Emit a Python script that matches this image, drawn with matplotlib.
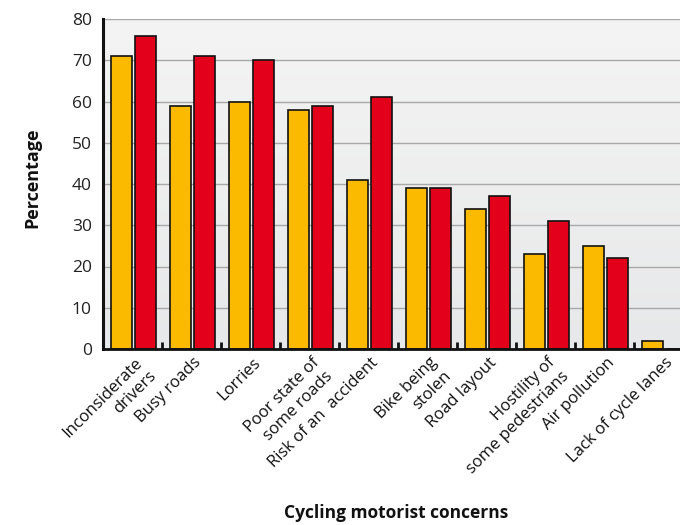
import matplotlib
matplotlib.use("Agg")
import matplotlib.pyplot as plt
import numpy as np
from matplotlib.colors import LinearSegmentedColormap

categories = ["Inconsiderate\ndrivers", "Busy roads", "Lorries", "Poor state of\nsome roads",
              "Risk of an  accident", "Bike being\nstolen", "Road layout",
              "Hostility of\nsome pedestrians", "Air pollution", "Lack of cycle lanes"]
cyclists = [71, 59, 60, 58, 41, 39, 34, 23, 25, 2]
motorists = [76, 71, 70, 59, 61, 39, 37, 31, 22, 0]
yticks = [0, 10, 20, 30, 40, 50, 60, 70, 80]

plt.rcParams['font.family'] = ['Open Sans', 'DejaVu Sans']

fig = plt.figure(figsize=(6.8, 5.25), dpi=100)
ax = fig.add_axes([103/680, 1-349/525, 590/680, 330/525])

# background gradient (light at top, slightly darker at bottom)
grad = np.linspace(0, 1, 256).reshape(-1, 1)
cmap = LinearSegmentedColormap.from_list("bg", ["#f4f4f4", "#e7e8e9"])
ax.imshow(grad, cmap=cmap, aspect='auto', extent=[0, 1, 0, 1], origin='upper',
          transform=ax.transAxes, zorder=0)

x = np.arange(len(categories))
w = 0.36
ax.bar(x - 0.19, cyclists, width=w, color="#FBBA00", edgecolor="#111111",
       linewidth=1.2, zorder=3)
ax.bar(x + 0.22, motorists, width=w, color="#E2001A", edgecolor="#111111",
       linewidth=1.2, zorder=3)

ax.set_xlim(-0.5, 9.5)
ax.set_ylim(0, 80)
ax.set_yticks(yticks)
ax.set_yticklabels([str(t) for t in yticks], fontsize=12.5, color="#222222")
ax.tick_params(axis='y', length=0, pad=8)
ax.yaxis.grid(True, color="#a8a8a8", linewidth=1.0, zorder=1)
ax.set_axisbelow(True)

ax.set_xticks(x + 0.03)
ax.set_xticklabels(categories, rotation=45, ha='right', va='top',
                   rotation_mode='anchor', fontsize=12, color="#111111",
                   linespacing=1.25)
ax.tick_params(axis='x', which='major', length=0, pad=4)
ax.set_xticks(np.arange(0.5, 9.5, 1.0), minor=True)
ax.tick_params(axis='x', which='minor', direction='in', length=5, width=2,
               color="#111111")

for s in ['top', 'right']:
    ax.spines[s].set_visible(False)
ax.spines['left'].set_linewidth(2.2)
ax.spines['bottom'].set_linewidth(2.0)
ax.spines['left'].set_color("#111111")
ax.spines['bottom'].set_color("#111111")
ax.spines['left'].set_zorder(5)
ax.spines['bottom'].set_zorder(5)

fig.text(32/680, 1-178/525, "Percentage", rotation=90, ha='center', va='center',
         fontsize=13, fontweight='bold', color="#111111")
fig.text(396/680, 1-513/525, "Cycling motorist concerns", ha='center', va='center',
         fontsize=12.5, fontweight='bold', color="#111111")

fig.savefig("out.png", dpi=100)
